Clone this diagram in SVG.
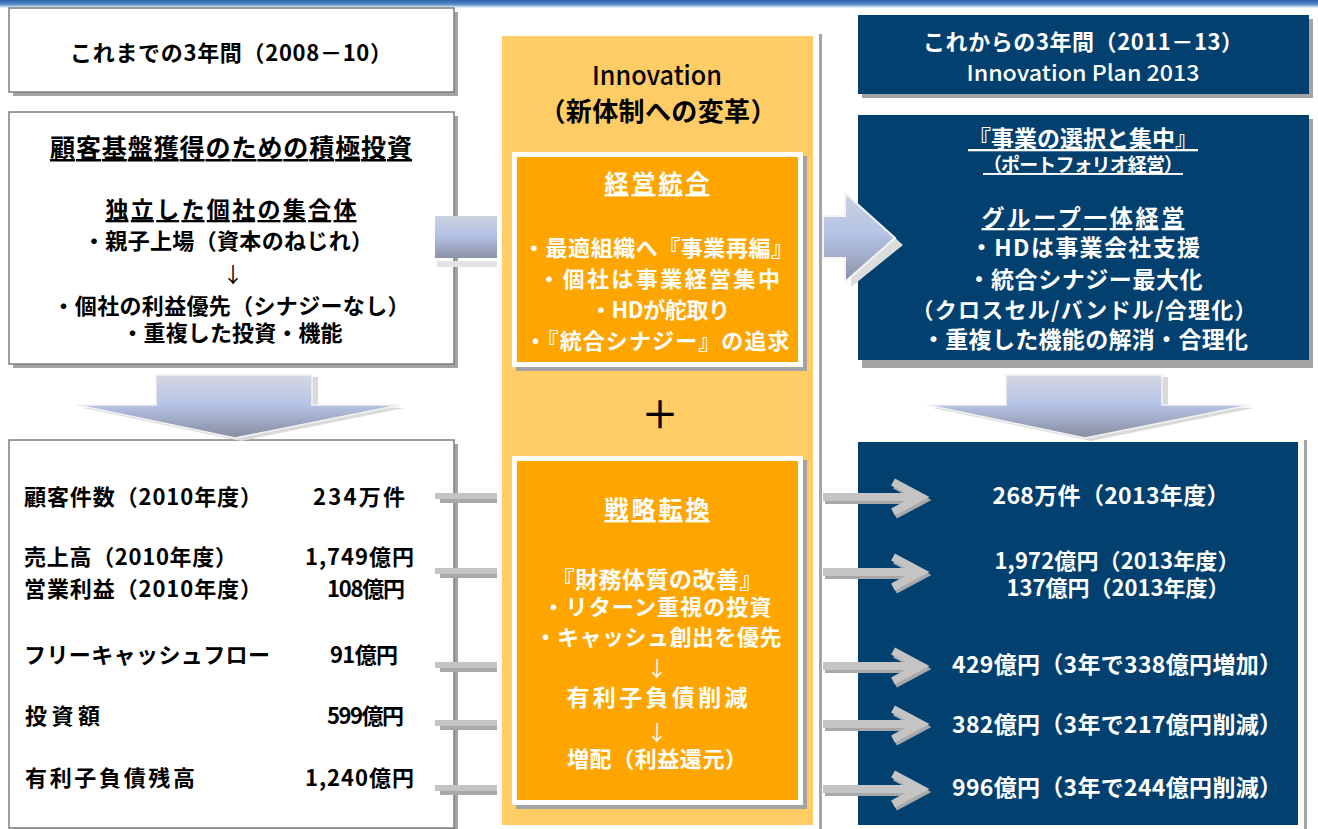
<svg xmlns="http://www.w3.org/2000/svg" xmlns:xlink="http://www.w3.org/1999/xlink" width="1318" height="829" viewBox="0 0 1318 829">
<style>
text{font-family:"Noto Sans CJK JP","Noto Sans",sans-serif;}
.m{text-anchor:middle}
.b{font-weight:bold}
.md{font-weight:500}
.w{fill:#ffffff}
.k{fill:#000000}
.u{text-decoration:underline}
.s22{font-size:22px}
.s23{font-size:23px}
.s24{font-size:24px}
.s25{font-size:25px}
.s26{font-size:26px}
.s19{font-size:19px}
.ar{font-size:21px}
.lbox{fill:#ffffff;stroke:#7f7f7f;stroke-width:1.5}
.nbox{fill:#02406f}
.sh{fill:#a3a3a3}
.ob{fill:#ffa500}
.wf{fill:#ffffff}
.bar{fill:#c4c4c4}
.barsh{fill:#a9a9a9}
.arr{fill:none;stroke:#c4c4c4;stroke-width:8;stroke-linejoin:miter}
.arrsh{fill:none;stroke:#a8a8a8;stroke-width:8;stroke-linejoin:miter}
</style>
<defs>
<linearGradient id="hdr" x1="0" y1="0" x2="0" y2="1">
<stop offset="0" stop-color="#2a61a8"/>
<stop offset="0.55" stop-color="#5a8dc8"/>
<stop offset="1" stop-color="#ffffff"/>
</linearGradient>
<linearGradient id="hg" x1="0" y1="0" x2="0" y2="1">
<stop offset="0" stop-color="#cbd0de"/>
<stop offset="0.45" stop-color="#b5c4e7"/>
<stop offset="1" stop-color="#8c92a6"/>
</linearGradient>
<linearGradient id="vg" x1="0" y1="0" x2="0" y2="1">
<stop offset="0" stop-color="#d4d7e0"/>
<stop offset="0.45" stop-color="#b7c5e7"/>
<stop offset="1" stop-color="#878ca0"/>
</linearGradient>
<g id="rarrow">
<g transform="translate(2,3)"><path class="arrsh" d="M823,0 H920 M893,-15 L921,0 L893,15"/></g>
<path class="arr" d="M823,0 H920 M893,-15 L921,0 L893,15"/>
</g>
<g id="lbar">
<rect class="barsh" x="440" y="0" width="57" height="5"/>
<rect class="bar" x="435" y="-5" width="62" height="6"/>
</g>
<g id="darrow">
<polygon fill="#dadada" points="162,377 318,377 318,405 404,408 241,441 83,408 162,405"/>
<polygon fill="url(#vg)" stroke="#f2f2f2" stroke-width="1.5" points="156,375 312,375 312,405 400,405 235,438 77,405 156,405"/>
</g>
</defs>

<rect x="0" y="0" width="1318" height="829" fill="#ffffff"/>
<rect x="0" y="0" width="1318" height="8" fill="url(#hdr)"/>

<g id="left-title">
<rect class="sh" x="13" y="12" width="445" height="84"/>
<rect class="lbox" x="9" y="8" width="445" height="84"/>
<text class="m k b s22" x="231" y="61" textLength="322">これまでの3年間（2008－10）</text>
</g>

<g id="left-past">
<rect class="sh" x="13" y="116" width="445" height="252"/>
<rect class="lbox" x="9" y="112" width="445" height="252"/>
<text class="m k b s25 u" x="231" y="157" textLength="362">顧客基盤獲得のための積極投資</text>
<text class="m k b s23 u" x="231" y="218" textLength="251">独立した個社の集合体</text>
<text class="m k b s22" x="228" y="249" textLength="290">・親子上場（資本のねじれ）</text>
<text class="m k ar" x="233" y="282">↓</text>
<text class="m k b s22" x="231" y="314" textLength="357">・個社の利益優先（シナジーなし）</text>
<text class="m k b s22" x="232" y="341" textLength="221">・重複した投資・機能</text>
</g>

<g id="left-figures">
<rect class="sh" x="13" y="444" width="445" height="390"/>
<rect class="lbox" x="9" y="440" width="445" height="388"/>
<text class="k b s22" x="24" y="505" textLength="238">顧客件数（2010年度）</text>
<text class="k b s22" x="313" y="505" textLength="92">234万件</text>
<text class="k b s22" x="24" y="565" textLength="213">売上高（2010年度）</text>
<text class="k b s22" x="305" y="565" textLength="109">1,749億円</text>
<text class="k b s22" x="24" y="597" textLength="238">営業利益（2010年度）</text>
<text class="k b s22" x="327" y="597" textLength="78">108億円</text>
<text class="k b s22" x="24" y="663" textLength="246">フリーキャッシュフロー</text>
<text class="k b s22" x="330" y="663" textLength="68">91億円</text>
<text class="k b s22" x="25" y="724" textLength="75">投資額</text>
<text class="k b s22" x="327" y="724" textLength="77">599億円</text>
<text class="k b s22" x="25" y="786" textLength="170">有利子負債残高</text>
<text class="k b s22" x="305" y="786" textLength="109">1,240億円</text>
</g>

<g id="innovation">
<rect x="819" y="34" width="3" height="795" fill="#a6a6a6"/>
<rect x="502" y="36" width="311" height="789" fill="#ffcc66"/>
<text class="m k md s26" x="657" y="85" textLength="130" lengthAdjust="spacingAndGlyphs">Innovation</text>
<text class="m k b s26" x="658" y="121" textLength="237">（新体制への変革）</text>
<text class="m k md" style="font-size:38px" x="660" y="428">＋</text>
</g>

<g id="integration">
<rect class="sh" x="516" y="156" width="291" height="215"/>
<rect class="wf" x="512" y="152" width="291" height="215"/>
<rect class="ob" x="517" y="157" width="281" height="205"/>
<text class="m w b s24 u" x="657" y="192" textLength="105">経営統合</text>
<text class="m w b s22" x="658" y="256" textLength="270">・最適組織へ『事業再編』</text>
<text class="m w b s22" x="659" y="287" textLength="242">・個社は事業経営集中</text>
<text class="m w b s22" x="660" y="318" textLength="140">・HDが舵取り</text>
<text class="m w b s22" x="657" y="349" textLength="265">・『統合シナジー』の追求</text>
</g>

<g id="strategy">
<rect class="sh" x="516" y="460" width="291" height="349"/>
<rect class="wf" x="512" y="456" width="291" height="349"/>
<rect class="ob" x="517" y="461" width="281" height="339"/>
<text class="m w b s24 u" x="657" y="518" textLength="105">戦略転換</text>
<text class="m w b s23" x="657" y="588" textLength="211">『財務体質の改善』</text>
<text class="m w b s22" x="657" y="615" textLength="229">・リターン重視の投資</text>
<text class="m w b s22" x="658" y="645" textLength="247">・キャッシュ創出を優先</text>
<text class="m w ar" x="657" y="676">↓</text>
<text class="m w b s23" x="657" y="706" textLength="181">有利子負債削減</text>
<text class="m w ar" x="657" y="740">↓</text>
<text class="m w b s22" x="657" y="767" textLength="180">増配（利益還元）</text>
</g>

<g id="right-title">
<rect class="sh" x="862" y="19" width="451" height="79"/>
<rect class="nbox" x="858" y="15" width="451" height="79"/>
<text class="m w b s22" x="1083" y="50" textLength="320">これからの3年間（2011－13）</text>
<text class="m w md s22" x="1083" y="81" textLength="233" lengthAdjust="spacingAndGlyphs">Innovation Plan 2013</text>
</g>

<g id="right-plan">
<rect class="sh" x="862" y="119" width="451" height="249"/>
<rect class="nbox" x="858" y="115" width="451" height="245"/>
<text class="m w b s23 u" x="1083" y="147" textLength="230">『事業の選択と集中』</text>
<text class="m w b s19 u" x="1083" y="172" textLength="200">（ポートフォリオ経営）</text>
<text class="m w b s23 u" x="1083" y="226" textLength="203">グループ一体経営</text>
<text class="m w b s23" x="1085" y="256" textLength="230">・HDは事業会社支援</text>
<text class="m w b s23" x="1085" y="288" textLength="235">・統合シナジー最大化</text>
<text class="m w b s22" x="1084" y="318" textLength="345">（クロスセル/バンドル/合理化）</text>
<text class="m w b s23" x="1085" y="348" textLength="326">・重複した機能の解消・合理化</text>
</g>

<g id="right-targets">
<rect x="1304" y="440" width="3" height="389" fill="#a6a6a6"/>
<rect class="nbox" x="858" y="442" width="440" height="383"/>
<text class="m w b s23" x="1111" y="504" textLength="237">268万件（2013年度）</text>
<text class="m w b s22" x="1117" y="569" textLength="245">1,972億円（2013年度）</text>
<text class="m w b s22" x="1118" y="596" textLength="223">137億円（2013年度）</text>
<text class="m w b s23" x="1117" y="673" textLength="330">429億円（3年で338億円増加）</text>
<text class="m w b s23" x="1117" y="733" textLength="330">382億円（3年で217億円削減）</text>
<text class="m w b s23" x="1117" y="796" textLength="330">996億円（3年で244億円削減）</text>
</g>

<g id="connectors">
<use xlink:href="#darrow"/>
<use xlink:href="#darrow" transform="translate(850,0)"/>
<rect x="437" y="261" width="60" height="6" fill="#e3e3e3"/>
<rect x="435" y="216" width="62" height="42" fill="url(#hg)"/>
<polygon fill="#dcdcdc" points="825,262 851,262 851,287 903,245 851,198 851,262"/>
<polygon fill="url(#hg)" stroke="#f4f4f4" stroke-width="2" points="823,216 845,216 845,193 895,238 845,282 845,258 823,258"/>
<use xlink:href="#lbar" transform="translate(0,498)"/>
<use xlink:href="#lbar" transform="translate(0,573)"/>
<use xlink:href="#lbar" transform="translate(0,667)"/>
<use xlink:href="#lbar" transform="translate(0,725)"/>
<use xlink:href="#lbar" transform="translate(0,790)"/>
<use xlink:href="#rarrow" transform="translate(0,497)"/>
<use xlink:href="#rarrow" transform="translate(0,572)"/>
<use xlink:href="#rarrow" transform="translate(0,666)"/>
<use xlink:href="#rarrow" transform="translate(0,724)"/>
<use xlink:href="#rarrow" transform="translate(0,789)"/>
</g>
</svg>
